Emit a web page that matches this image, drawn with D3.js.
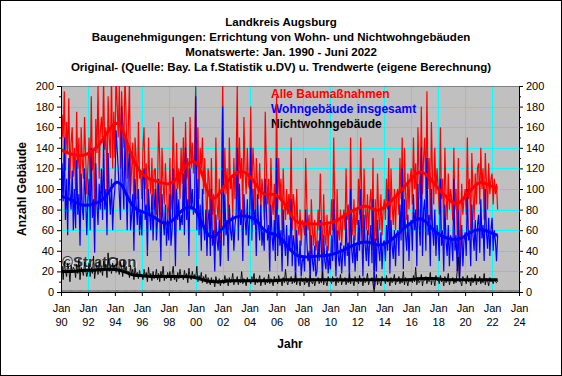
<!DOCTYPE html>
<html>
<head>
<meta charset="utf-8">
<script src="https://cdn.jsdelivr.net/npm/d3@7"></script>
<style>
body { margin: 0; background: #fff; }
svg { display: block; }
text { font-family: "Liberation Sans", Arial, sans-serif; }
</style>
</head>
<body>
<div id="chart"></div>
<script>
// monthly values Jan 1990 - Jun 2022
const alleBau = [
  100,172,150,195,118,165,135,188,110,145,160,112,
  140,98,175,120,150,85,160,128,110,170,132,95,
  122,150,102,190,118,140,70,168,135,200,110,155,
  170,145,205,138,160,95,190,150,130,210,120,175,
  130,210,185,150,200,120,195,165,140,210,172,110,
  160,205,95,120,145,70,150,130,90,165,110,118,
  90,140,160,100,125,65,150,110,95,130,80,118,
  120,75,100,165,130,60,140,105,85,125,100,70,
  85,130,80,95,170,115,55,145,100,120,90,140,
  105,150,95,165,110,130,75,170,120,145,115,135,
  200,110,160,90,140,120,150,95,130,100,60,120,
  110,60,130,75,95,40,150,85,70,110,25,95,
  200,80,140,95,120,60,150,100,110,75,130,90,
  125,200,90,150,110,130,75,170,115,95,140,105,
  100,180,95,140,120,70,130,105,90,125,80,110,
  95,70,175,120,85,110,50,130,90,75,105,60,
  190,80,130,90,110,55,120,85,70,100,75,95,
  70,150,60,95,85,40,100,65,55,80,45,70,
  65,55,130,85,60,75,30,90,60,45,70,40,
  50,80,60,115,70,35,95,55,45,75,40,65,
  55,90,60,150,75,35,100,60,50,80,45,70,
  80,60,120,70,85,40,150,75,55,90,50,80,
  65,110,75,150,90,45,120,80,60,95,55,85,
  100,60,130,3,90,50,115,75,60,95,55,80,
  90,70,110,80,130,50,120,85,65,100,60,95,
  100,75,130,90,150,55,140,95,70,115,80,110,
  120,85,150,100,125,70,160,110,90,180,95,130,
  150,90,195,100,130,70,165,110,85,140,95,120,
  100,75,160,90,110,60,140,95,70,115,80,100,
  90,70,140,80,100,55,130,15,65,105,75,90,
  100,75,150,90,110,60,135,95,70,115,85,120,
  125,85,140,100,120,70,135,105,80,125,95,110,
  115,85,110,95,105,80
];
const wohn = [
  65,125,88,150,70,110,55,130,95,80,118,60,
  100,62,128,75,95,45,115,82,70,120,90,55,
  92,110,60,140,72,90,38,125,85,65,105,80,
  120,70,150,80,100,55,135,95,75,110,60,88,
  100,157,140,120,95,70,180,110,80,150,100,60,
  120,140,60,75,95,40,110,85,65,100,55,80,
  55,110,120,70,85,35,100,75,60,95,50,80,
  100,50,70,110,75,30,95,70,55,85,45,70,
  50,95,45,60,120,75,25,100,70,90,60,75,
  65,115,55,140,70,90,35,120,80,100,75,85,
  190,60,110,55,85,40,100,65,50,80,35,70,
  80,35,100,45,60,20,75,50,40,70,25,55,
  180,45,95,55,70,30,85,60,50,75,40,65,
  75,140,50,105,65,80,30,95,70,55,90,45,
  70,140,50,100,65,80,35,95,65,50,85,45,
  60,40,110,80,50,65,20,85,55,40,70,30,
  130,35,75,45,60,20,80,50,35,65,25,55,
  40,90,25,55,45,10,60,35,25,50,15,30,
  35,20,80,50,30,40,10,55,30,20,45,15,
  20,50,30,70,40,12,55,30,22,45,18,35,
  22,55,30,90,42,15,60,35,25,48,18,38,
  45,25,75,35,48,10,100,40,28,55,20,45,
  30,70,40,100,55,15,75,45,30,60,25,50,
  65,28,90,5,52,20,70,42,30,58,22,48,
  50,30,65,40,100,18,70,45,32,60,25,55,
  60,35,85,50,120,22,90,55,40,75,30,65,
  70,40,95,60,80,25,105,65,45,140,35,80,
  90,40,130,55,75,25,100,60,45,80,35,65,
  55,30,110,45,60,20,85,50,35,65,25,55,
  50,30,110,40,55,20,80,10,35,65,25,50,
  58,35,100,50,60,25,85,55,40,70,30,65,
  75,38,90,52,65,30,100,58,42,72,35,60,
  72,40,60,50,30,55
];
const nichtwohn = [
  18,25,12,30,20,15,28,22,10,26,19,24,
  22,14,27,18,32,12,24,20,16,29,21,15,
  20,28,15,24,18,35,13,22,26,17,30,19,
  24,16,30,21,27,14,38,20,25,18,28,22,
  26,19,33,22,17,29,24,15,31,20,25,18,
  20,14,26,17,22,12,24,16,19,13,21,15,
  17,12,22,15,19,10,24,14,18,11,20,13,
  15,22,12,18,10,20,14,25,11,16,13,19,
  14,20,11,17,25,12,16,10,19,13,22,15,
  16,12,21,14,18,9,23,15,12,20,14,17,
  13,25,10,16,12,19,9,15,11,17,8,14,
  11,7,14,9,12,5,15,10,8,13,6,11,
  12,8,16,10,13,6,14,9,11,18,7,12,
  10,15,7,12,9,20,8,13,11,6,14,10,
  12,8,15,10,18,7,13,9,11,16,6,12,
  11,14,7,12,9,17,8,13,10,6,15,11,
  13,8,16,10,12,6,14,9,22,11,7,12,
  10,15,8,12,9,18,7,13,11,6,14,10,
  12,7,14,9,11,5,16,10,8,13,6,11,
  11,14,8,12,9,20,7,13,10,6,15,11,
  12,8,15,10,13,6,14,9,11,17,7,12,
  10,14,7,12,9,18,8,13,11,6,15,10,
  12,8,16,10,13,6,14,9,11,18,7,12,
  11,14,8,0,9,17,7,13,10,6,15,11,
  13,8,16,10,12,6,14,9,11,17,7,12,
  10,15,8,12,9,20,7,14,11,6,13,10,
  12,9,16,10,24,7,14,9,11,17,6,13,
  11,15,8,13,10,19,7,14,12,6,16,11,
  12,8,16,10,13,6,15,9,11,18,7,12,
  11,14,8,12,9,20,34,13,10,6,15,11,
  12,8,16,10,13,6,14,9,11,17,7,12,
  10,15,8,12,9,18,7,13,11,6,14,10,
  12,8,13,10,9,11
];

// trend values, Jan and Jul of each year (last one = Jun 2022)
const trendAlle = [138,135, 133,132, 134,138, 146,156, 165,163, 140,124, 114,110, 108,106,
  104,108, 118,126, 128,116, 89,91, 100,110, 116,118, 113,104, 94,95, 95,88, 76,67,
  67,66, 66,66, 67,69, 74,78, 81,84, 82,78, 82,88, 95,102, 110,117, 116,109, 100,94,
  87,84, 93,100, 107,106, 102,101];
const trendWohn = [93,91, 88,84, 84,86, 88,95, 108,106, 90,80, 78,76, 72,67,
  66,72, 80,83, 81,66, 52,54, 62,70, 73,74, 73,71, 60,57, 56,50, 41,35,
  34,34, 35,35, 36,38, 41,44, 47,49, 48,45, 46,50, 56,63, 67,72, 70,62, 56,53,
  51,51, 54,59, 61,60, 57,55];
const trendNicht = [20,20, 20,21, 21,21, 22,22, 22,21, 18,16, 16,15, 15,15,
  15,15, 15,15, 14,12, 10,10, 10,11, 11,11, 11,11, 11,11, 11,12, 12,12,
  12,12, 12,12, 12,12, 12,12, 12,12, 12,12, 12,12, 12,12, 12,13, 13,13, 13,12,
  12,12, 12,12, 12,12, 12,12];

const titleLines = [
  "Landkreis Augsburg",
  "Baugenehmigungen: Errichtung von Wohn- und Nichtwohngebäuden",
  "Monatswerte: Jan. 1990 - Juni 2022",
  "Original- (Quelle: Bay. La f.Statistik u.DV) u. Trendwerte (eigene Berechnung)"
];
const legendNames = ["Alle Baumaßnahmen", "Wohngebäude insgesamt", "Nichtwohngebäude"];
const colors = ["#ff0000", "#0000ff", "#000000"];

const W = 562, H = 376;
const margin = { top: 86, right: 43, bottom: 84, left: 61 };
const width = W - margin.left - margin.right;
const height = H - margin.top - margin.bottom;

const monthDate = i => new Date(1990, i, 1);
const trendDate = i => i === trendAlle.length - 1 ? new Date(2022, 5, 1) : new Date(1990 + Math.floor(i / 2), (i % 2) * 6, 1);

const svg = d3.select("#chart").append("svg")
    .attr("width", W)
    .attr("height", H);

svg.append("rect")
    .attr("x", 0.5).attr("y", 0.5)
    .attr("width", W - 1).attr("height", H - 1)
    .attr("fill", "#fff").attr("stroke", "#000");

// title
svg.append("g").selectAll("text")
    .data(titleLines)
    .enter().append("text")
    .attr("x", 281)
    .attr("y", (d, i) => 26 + i * 15)
    .attr("text-anchor", "middle")
    .style("font-size", "11.5px")
    .style("font-weight", "bold")
    .text(d => d);

const g = svg.append("g")
    .attr("transform", "translate(" + margin.left + "," + margin.top + ")");

const x = d3.scaleTime()
    .domain([new Date(1990, 0, 1), new Date(2024, 0, 1)])
    .range([0, width]);
const y = d3.scaleLinear()
    .domain([0, 200])
    .range([height, 0]);

g.append("rect")
    .attr("width", width).attr("height", height)
    .attr("fill", "#c0c0c0");

// grid
const yearTicks = x.ticks(d3.timeYear.every(2));
g.append("g").selectAll("line")
    .data(d3.range(20, 201, 20))
    .enter().append("line")
    .attr("x1", 0).attr("x2", width)
    .attr("y1", d => Math.round(y(d)) + 0.5).attr("y2", d => Math.round(y(d)) + 0.5)
    .attr("stroke", "#00ffff");
g.append("g").selectAll("line")
    .data(yearTicks.slice(1, -1))
    .enter().append("line")
    .attr("x1", d => Math.round(x(d)) + 0.5).attr("x2", d => Math.round(x(d)) + 0.5)
    .attr("y1", 0).attr("y2", height)
    .attr("stroke", "#00ffff");

g.append("line")
    .attr("x1", 0).attr("x2", width)
    .attr("y1", 0.5).attr("y2", 0.5)
    .attr("stroke", "#808080");

// watermark
g.append("text")
    .attr("x", 2).attr("y", 182)
    .style("font-size", "15px").style("font-weight", "bold")
    .attr("fill", "#eee")
    .text("©StratCon");
g.append("text")
    .attr("x", 1).attr("y", 181)
    .style("font-size", "15px").style("font-weight", "bold")
    .attr("fill", "#333")
    .text("©StratCon");

// legend
g.append("g").selectAll("text")
    .data(legendNames)
    .enter().append("text")
    .attr("x", 210)
    .attr("y", (d, i) => 12 + i * 15)
    .style("font-size", "12px")
    .style("font-weight", "bold")
    .attr("fill", (d, i) => colors[i])
    .text(d => d);

// series
g.append("clipPath").attr("id", "clip")
    .append("rect").attr("width", width).attr("height", height);

const plot = g.append("g").attr("clip-path", "url(#clip)");

const rawLine = d3.line()
    .x((d, i) => x(monthDate(i)))
    .y(d => y(d));
const trendLine = d3.line()
    .x((d, i) => x(trendDate(i)))
    .y(d => y(d))
    .curve(d3.curveBasis);

const raws = [alleBau, wohn, nichtwohn];
const trends = [trendAlle, trendWohn, trendNicht];
const rawWidths = [1.2, 1.2, 0.9];

raws.forEach((s, k) => {
    plot.append("path")
        .datum(s)
        .attr("d", rawLine)
        .attr("fill", "none")
        .attr("stroke", colors[k])
        .attr("stroke-linejoin", "bevel")
        .attr("stroke-width", rawWidths[k]);
});
trends.forEach((s, k) => {
    plot.append("path")
        .datum(s)
        .attr("d", trendLine)
        .attr("fill", "none")
        .attr("stroke", colors[k])
        .attr("stroke-width", 3);
});

// axes
const yLeft = d3.axisLeft(y).tickValues(d3.range(0, 201, 20)).tickSize(4).tickPadding(3);
const yLeftMinor = d3.axisLeft(y).tickValues(d3.range(10, 200, 20)).tickSize(2).tickFormat("");
const yRight = d3.axisRight(y).tickValues(d3.range(0, 201, 20)).tickSize(4).tickPadding(3);
const yRightMinor = d3.axisRight(y).tickValues(d3.range(10, 200, 20)).tickSize(2).tickFormat("");
const xMinor = d3.axisBottom(x).ticks(d3.timeMonth.every(1)).tickSize(-2).tickFormat("");
const xAxis = d3.axisBottom(x).tickValues(yearTicks).tickSize(4).tickFormat("");

g.append("g").call(yLeftMinor).select(".domain").remove();
g.append("g").attr("transform", "translate(" + width + ",0)").call(yRightMinor).select(".domain").remove();
const mg = g.append("g").attr("transform", "translate(0," + height + ")").call(xMinor);
mg.select(".domain").remove();
mg.selectAll(".tick line").attr("stroke", "#555").attr("stroke-width", 0.6);

g.append("g").attr("class", "y axis").call(yLeft);
g.append("g").attr("class", "y axis").attr("transform", "translate(" + width + ",0)").call(yRight);
const xg = g.append("g").attr("class", "x axis")
    .attr("transform", "translate(0," + height + ")")
    .call(xAxis);

xg.selectAll(".tick").append("text")
    .attr("fill", "#000")
    .attr("y", 20)
    .text("Jan")
    .append("tspan")
    .attr("x", 0).attr("dy", 14)
    .text(d => d3.timeFormat("%y")(d));

g.selectAll(".axis text").style("font-size", "11px").style("font-family", "Liberation Sans, Arial, sans-serif");
g.selectAll(".x.axis .tick text").attr("dy", null);
g.selectAll("path.domain").attr("stroke", "#000");

// axis titles
g.append("text")
    .attr("x", width / 2).attr("y", height + 56)
    .attr("text-anchor", "middle")
    .style("font-size", "12px").style("font-weight", "bold")
    .text("Jahr");
g.append("text")
    .attr("transform", "translate(-35," + height / 2 + ") rotate(-90)")
    .attr("text-anchor", "middle")
    .style("font-size", "12px").style("font-weight", "bold")
    .text("Anzahl Gebäude");
</script>
</body>
</html>
